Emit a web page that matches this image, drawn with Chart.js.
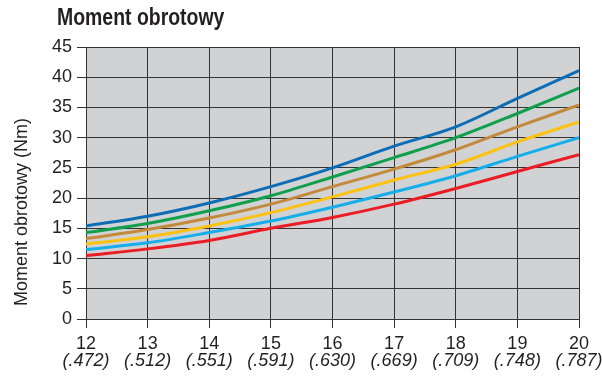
<!DOCTYPE html>
<html>
<head>
<meta charset="utf-8">
<script src="https://cdn.jsdelivr.net/npm/chart.js@4/dist/chart.umd.min.js"></script>
<style>
  html, body { margin: 0; padding: 0; background: #ffffff; }
  #wrap { width: 602px; height: 376px; }
</style>
</head>
<body>
<div id="wrap"><canvas id="c" width="602" height="376"></canvas></div>
<script>
// Shaft diameter (mm) and its inch equivalent
const diameters = [12, 13, 14, 15, 16, 17, 18, 19, 20];
const inchLabels = ['(.472)', '(.512)', '(.551)', '(.591)', '(.630)', '(.669)', '(.709)', '(.748)', '(.787)'];
const yTicks = [0, 5, 10, 15, 20, 25, 30, 35, 40, 45];

// Torque curves (Nm), top to bottom
const seriesBlue      = [15.4, 17.0, 19.2, 21.9, 25.0, 28.6, 31.8, 36.5, 41.1];
const seriesGreen     = [14.3, 15.8, 17.9, 20.4, 23.5, 26.7, 30.0, 34.0, 38.2];
const seriesBrown     = [13.3, 14.8, 16.7, 19.0, 21.9, 24.8, 28.0, 31.8, 35.4];
const seriesYellow    = [12.4, 13.6, 15.4, 17.6, 20.2, 23.0, 25.6, 29.3, 32.6];
const seriesLightBlue = [11.5, 12.6, 14.3, 16.2, 18.5, 21.0, 23.7, 26.9, 30.0];
const seriesRed       = [10.5, 11.6, 13.0, 15.0, 16.8, 19.0, 21.6, 24.4, 27.2];

const chartTitle = 'Moment obrotowy';
const yTitle = 'Moment obrotowy (Nm)';

const GRID = '#333333';
const TEXT = '#231f20';
const FONT = '"Liberation Sans", Arial, sans-serif';

function pts(arr) { return diameters.map((d, i) => ({ x: d, y: arr[i] })); }
function line(data, color) {
  return {
    data: pts(data),
    borderColor: color,
    borderWidth: 3,
    pointRadius: 0,
    fill: false,
    cubicInterpolationMode: 'monotone'
  };
}

// Grey plot background, headings and the italic inch row under the x axis
const decor = {
  id: 'decor',
  beforeDraw(chart) {
    const { ctx, chartArea: a } = chart;
    ctx.save();
    ctx.fillStyle = '#d1d2d4';
    ctx.fillRect(a.left, a.top, a.right - a.left, a.bottom - a.top);
    ctx.restore();
  },
  afterDraw(chart) {
    const { ctx, chartArea: a } = chart;
    const xs = chart.scales.x;
    ctx.save();
    ctx.fillStyle = TEXT;

    // condensed bold heading
    ctx.save();
    ctx.translate(57, 25);
    ctx.scale(0.81, 1);
    ctx.font = 'bold 24px ' + FONT;
    ctx.textAlign = 'left';
    ctx.textBaseline = 'alphabetic';
    ctx.fillText(chartTitle, 0, 0);
    ctx.restore();

    // inch equivalents, one per diameter tick
    ctx.font = 'italic 18px ' + FONT;
    ctx.textAlign = 'center';
    ctx.textBaseline = 'middle';
    diameters.forEach((d, i) => {
      ctx.fillText(inchLabels[i], xs.getPixelForValue(d), a.bottom + 42);
    });

    // y axis title
    ctx.translate(27, 212);
    ctx.rotate(-Math.PI / 2);
    ctx.font = '18px ' + FONT;
    ctx.textAlign = 'center';
    ctx.textBaseline = 'alphabetic';
    ctx.fillText(yTitle, 0, 0);
    ctx.restore();
  }
};

new Chart(document.getElementById('c'), {
  type: 'line',
  data: {
    datasets: [
      line(seriesRed, '#ec1c24'),
      line(seriesLightBlue, '#15aeea'),
      line(seriesYellow, '#fdc210'),
      line(seriesBrown, '#c48a3c'),
      line(seriesGreen, '#10a04b'),
      line(seriesBlue, '#0d6db6')
    ]
  },
  options: {
    responsive: false,
    animation: false,
    events: [],
    layout: { padding: { top: 47, right: 23, bottom: 16, left: 0 } },
    plugins: { legend: { display: false }, tooltip: { enabled: false }, title: { display: false } },
    scales: {
      x: {
        type: 'linear',
        position: 'bottom',
        min: 12, max: 20,
        afterBuildTicks(s) { s.ticks = diameters.map(v => ({ value: v })); },
        ticks: {
          color: TEXT,
          font: { family: FONT, size: 18, lineHeight: 1 },
          padding: 7,
          maxRotation: 0,
          autoSkip: false,
          callback: (v) => String(v)
        },
        grid: { color: GRID, lineWidth: 1, tickLength: 9, tickColor: GRID },
        border: { color: GRID, width: 1 }
      },
      y: {
        min: 0, max: 45,
        afterBuildTicks(s) { s.ticks = yTicks.map(v => ({ value: v })); },
        afterFit(s) { s.width = 86; },
        ticks: {
          color: TEXT,
          font: { family: FONT, size: 18 },
          padding: 5
        },
        grid: { color: GRID, lineWidth: 1, tickLength: 9, tickColor: GRID },
        border: { color: GRID, width: 1 }
      }
    }
  },
  plugins: [decor]
});
</script>
</body>
</html>
